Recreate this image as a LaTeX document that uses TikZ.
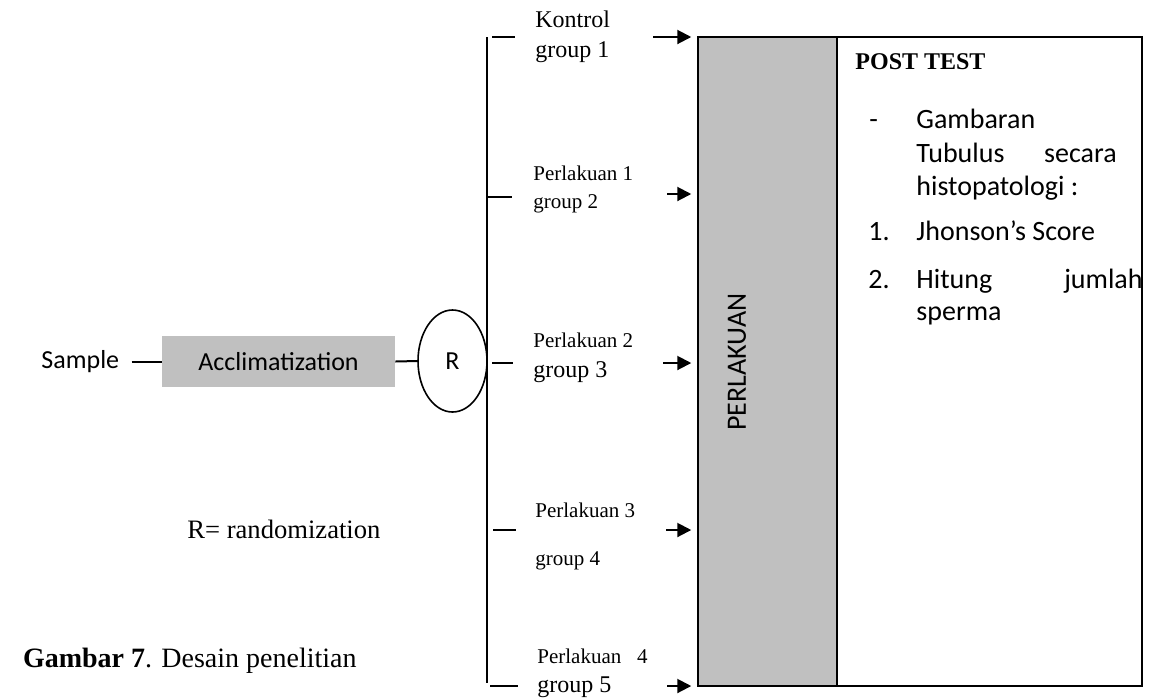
\documentclass[tikz,border=0pt]{standalone}
\usepackage{fontspec}
\setmainfont{Liberation Serif}
\newfontfamily\calibrifont{Carlito}
\usetikzlibrary{arrows.meta}
\usetikzlibrary{positioning}
\usetikzlibrary{shapes.geometric}
\definecolor{boxgray}{RGB}{192,192,192}
\tikzset{
    link/.style={line width=1pt},
    feed/.style={link, -{Triangle[length=7pt,width=7pt]}, shorten >=3pt},
    grouplabel/.style={
        anchor=west, inner sep=0pt,
        text height=1.5ex, text depth=0.25ex,
        font=\fontsize{10.5}{12}\selectfont,
    },
    biglabel/.style={grouplabel, font=\fontsize{12}{14}\selectfont},
    bodytext/.style={
        anchor=west, inner sep=0pt,
        text height=1.5ex, text depth=0.25ex,
        font=\calibrifont\fontsize{14}{17}\selectfont,
    },
}

\begin{document}
\begin{tikzpicture}[x=0.5pt, y=-0.5pt]
        \useasboundingbox (0,0) rectangle (1154,697);

        \node (accl) at(278.5,361.5) [
            rectangle, fill=boxgray,
            minimum width=116.5pt, minimum height=25.5pt,
            font=\calibrifont\fontsize{13}{15}\selectfont,
        ] {Acclimatization};
        \node (sample) [
            left=21pt of accl, inner sep=0pt,
            font=\calibrifont\fontsize{13}{15}\selectfont,
        ] {Sample};
        \node (rand) at(452.5,361) [
            ellipse, draw=black, line width=0.8pt, inner sep=0pt,
            minimum width=34.5pt, minimum height=51pt,
            font=\calibrifont\fontsize{13}{15}\selectfont,
        ] {R};
        \draw[link] ([xshift=6pt]sample.east) -- (accl.west);
        \draw[link] (accl.east) -- (rand.west);

        \node (treat) at(767.5,361.5) [
            rectangle, draw=black, line width=0.75pt,
            fill=boxgray,
            minimum width=69.5pt, minimum height=324.5pt,
        ] {};
        \node (post) at(989.5,361.5) [
            rectangle, draw=black, line width=0.75pt,
            minimum width=152.5pt, minimum height=324.5pt,
        ] {};
        \node (treatlabel) at(737,362) [
            rotate=90, inner sep=0pt,
            font=\calibrifont\fontsize{14}{17}\selectfont,
        ] {PERLAKUAN};

        % branching line with one tick and one arrow per group
        \coordinate (branchtop) at(487,37);
        \coordinate (branchbot) at(487,683);
        \draw[link] (branchtop) -- (branchbot);
        \foreach \g/\tx/\ty/\tl/\ax/\ay in {1/492/37/23/653/37, 2/488/197/24/667/194,
                3/492/363/21/663/363, 4/493/530/23/666/530, 5/490/686/28/667/686} {
            \coordinate (tick\g) at(\tx,\ty);
            \draw[link] (tick\g) -- ++(\tl,0);
            \coordinate (feed\g) at(\ax,\ay);
            \draw[feed] (feed\g) -- (treat.west |- feed\g);
        }

        \node (kontrol) at(535,22) [biglabel] {Kontrol};
        \node (group1) at(535,52) [biglabel] {group 1};
        \node (treat1) at(533,175) [grouplabel] {Perlakuan 1};
        \node (group2) at(533,203) [grouplabel] {group 2};
        \node (treat2) at(533,342) [grouplabel] {Perlakuan 2};
        \node (group3) at(533,372) [biglabel] {group 3};
        \node (treat3) at(535,512) [grouplabel] {Perlakuan 3};
        \node (group4) at(535,560) [grouplabel] {group 4};
        \node (treat4) at(537,658) [grouplabel] {Perlakuan\ \ \ 4};
        \node (group5) at(537,687) [biglabel] {group 5};

        % post test list
        \node (posttitle) at(855,62) [
            anchor=west, inner sep=0pt,
            font=\bfseries\fontsize{12}{14}\selectfont,
        ] {POST TEST};
        \node (dash) at(869,123) [bodytext] {-};
        \node (item0) at(916,123) [bodytext] {Gambaran};
        \node (item0b) at(916,157) [bodytext] {Tubulus};
        \node (item0c) at(1117,157) [bodytext, anchor=east] {secara};
        \node (item0d) at(916,190) [bodytext] {histopatologi :};
        \node (num1) at(868,235) [bodytext] {1.};
        \node (item1) at(916,235) [bodytext] {Jhonson’s Score};
        \node (num2) at(868,283) [bodytext] {2.};
        \node (item2) at(916,283) [bodytext] {Hitung};
        \node (item2b) at(1143,283) [bodytext, anchor=east] {jumlah};
        \node (item2c) at(916,315) [bodytext] {sperma};

        \node (randnote) at(187,533) [
            anchor=west, inner sep=0pt,
            text height=1.5ex, text depth=0.25ex,
            font=\fontsize{13.3}{16}\selectfont,
        ] {R= randomization};
        \node (caption) at(357,662) [
            anchor=east, inner sep=0pt,
            text height=1.5ex, text depth=0.25ex,
            font=\fontsize{14}{16}\selectfont,
        ] {\textbf{Gambar 7}. Desain penelitian};
    \end{tikzpicture}
\end{document}
